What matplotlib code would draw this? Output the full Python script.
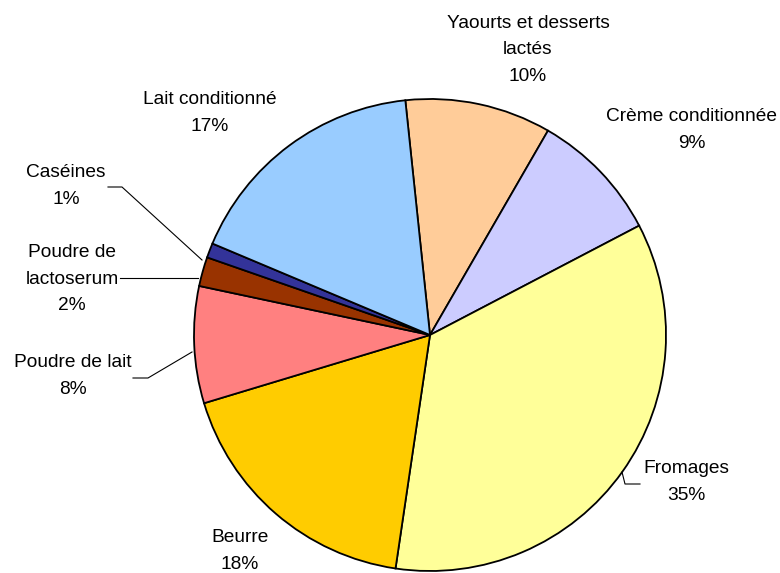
import matplotlib.pyplot as plt

# data, clockwise from the top
categories = ["Yaourts et desserts\nlactés", "Crème conditionnée", "Fromages", "Beurre",
              "Poudre de lait", "Poudre de\nlactoserum", "Caséines", "Lait conditionné"]
shares = [10, 9, 35, 18, 8, 2, 1, 17]
colors = ["#FFCC99", "#CCCCFF", "#FFFF99", "#FFCC00",
          "#FF8080", "#993300", "#333399", "#99CCFF"]

# label centres in pixel coords (x, y from top)
label_pos = [(528, 50), (692, 130), (686, 482), (240, 551),
             (73, 376), (72, 279), (66, 186), (210, 113)]

W, H = 780, 573
fig = plt.figure(figsize=(W / 100, H / 100), dpi=100)
ax = fig.add_axes([0, 0, 1, 1])

cx, cy, r = 430, H - 335, 236
ax.pie(shares, colors=colors, startangle=96, counterclock=False,
       center=(cx, cy), radius=r, frame=True,
       wedgeprops=dict(edgecolor="black", linewidth=1.3))
ax.set_xlim(0, W)
ax.set_ylim(0, H)
ax.set_aspect("equal")
ax.axis("off")

for name, val, (x, y) in zip(categories, shares, label_pos):
    ax.text(x, H - y, "{}\n{}%".format(name, val), ha="center", va="center",
            fontsize=13.8, family="Liberation Sans", linespacing=1.7)

# leader lines
leaders = [
    [(108, 187), (122, 187), (202, 260)],   # Caséines
    [(120, 278), (198, 278)],               # lactoserum
    [(133, 378), (148, 378), (192, 352)],   # Poudre de lait
    [(622, 472), (625, 484), (640, 484)],   # Fromages
]
for pts in leaders:
    xs = [p[0] for p in pts]
    ys = [H - p[1] for p in pts]
    ax.plot(xs, ys, color="black", linewidth=0.8)

fig.savefig("out.png", dpi=100)
